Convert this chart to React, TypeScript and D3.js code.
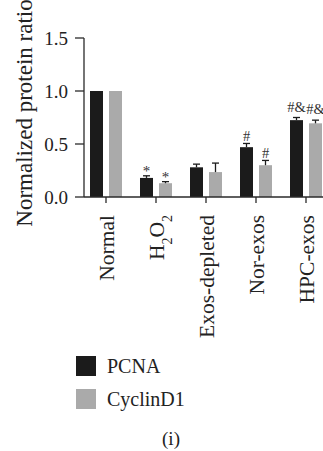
import React from 'react';
import * as d3 from 'd3';

const categories = ['Normal', 'H2O2', 'Exos-depleted', 'Nor-exos', 'HPC-exos'];
const series = ['PCNA', 'CyclinD1'];
const pcnaValues = [1.0, 0.18, 0.28, 0.47, 0.725];
const pcnaErrors = [0, 0.02, 0.03, 0.035, 0.025];
const cyclinValues = [1.0, 0.13, 0.235, 0.3, 0.695];
const cyclinErrors = [0, 0.015, 0.085, 0.045, 0.03];
const pcnaMarks = ['', '*', '', '#', '#&'];
const cyclinMarks = ['', '*', '', '#', '#&'];
const yTicks = [0, 0.5, 1.0, 1.5];

const colors = { PCNA: '#1b1b1b', CyclinD1: '#aaaaaa' };
const FONT = '"Liberation Serif", "Times New Roman", serif';

const App = () => {
  const width = 323;
  const height = 451;

  const x = d3.scaleBand().domain(categories).range([81, 331]).padding(0);
  const xs = d3.scaleBand().domain(series).range([9, 41]).paddingInner(6 / 19).paddingOuter(0);
  const y = d3.scaleLinear().domain([0, 1.5]).range([197, 38]);

  const data = series.map((s) => ({
    key: s,
    values: s === 'PCNA' ? pcnaValues : cyclinValues,
    errors: s === 'PCNA' ? pcnaErrors : cyclinErrors,
    marks: s === 'PCNA' ? pcnaMarks : cyclinMarks,
  }));

  const bw = xs.bandwidth();
  const axisColor = '#2a2a2a';

  // offset of the significance mark from the error cap
  const markOffset = (m: string) => (m === '*' ? 0 : m === '#' ? -2 : -6);

  const renderLabel = (c: string) => {
    if (c === 'H2O2') {
      return (
        <>
          H<tspan baselineShift="sub" fontSize="14">2</tspan>O<tspan baselineShift="sub" fontSize="14">2</tspan>
        </>
      );
    }
    return c;
  };

  return (
    <svg width={width} height={height} style={{ position: 'absolute', left: 0, top: 0, background: '#fff' }} fontFamily={FONT}>
      {/* y axis */}
      <line x1={84} x2={84} y1={y(1.5)} y2={y(0)} stroke={axisColor} strokeWidth={1.3} />
      {yTicks.map((t) => (
        <g key={t}>
          <line x1={75} x2={84} y1={y(t)} y2={y(t)} stroke={axisColor} strokeWidth={1.3} />
          <text x={68} y={y(t)} dy="0.35em" textAnchor="end" fontSize={19} fill="#222">
            {t.toFixed(1)}
          </text>
        </g>
      ))}
      <text transform={`translate(32,${113}) rotate(-90)`} textAnchor="middle" fontSize={23} fill="#222">
        Normalized protein ratio
      </text>

      {/* bars */}
      {data.map((s) =>
        categories.map((c, i) => {
          const bx = (x(c) as number) + (xs(s.key) as number);
          const v = s.values[i];
          const e = s.errors[i];
          const cx = bx + bw / 2;
          const m = s.marks[i];
          return (
            <g key={s.key + c}>
              <rect x={bx} y={y(v)} width={bw} height={y(0) - y(v)} fill={colors[s.key as 'PCNA' | 'CyclinD1']} />
              {e > 0 && (
                <>
                  <line x1={cx} x2={cx} y1={y(v)} y2={y(v + e)} stroke="#1b1b1b" strokeWidth={1.3} />
                  <line x1={cx - 3.5} x2={cx + 3.5} y1={y(v + e)} y2={y(v + e)} stroke="#1b1b1b" strokeWidth={1.3} />
                </>
              )}
              {m && (
                <text x={cx} y={y(v + e) + markOffset(m)} textAnchor="middle" fontSize={m === '*' ? 15 : 14.5} fill="#333">
                  {m}
                </text>
              )}
            </g>
          );
        })
      )}

      {/* x axis */}
      <line x1={84} x2={323} y1={y(0)} y2={y(0)} stroke={axisColor} strokeWidth={1.3} />
      {categories.map((c) => {
        const cx = (x(c) as number) + x.bandwidth() / 2;
        return (
          <g key={c}>
            <line x1={cx} x2={cx} y1={y(0)} y2={y(0) + 6} stroke={axisColor} strokeWidth={1.3} />
            <text transform={`translate(${cx},${215}) rotate(-90)`} textAnchor="end" dy="0.35em" fontSize={21.5} fill="#222">
              {renderLabel(c)}
            </text>
          </g>
        );
      })}

      {/* legend */}
      {series.map((s, i) => (
        <g key={s} transform={`translate(76,${356 + i * 33})`}>
          <rect width={20} height={20} fill={colors[s as 'PCNA' | 'CyclinD1']} />
          <text x={31} y={10} dy="0.35em" fontSize={20} fill="#222">
            {s}
          </text>
        </g>
      ))}

      <text x={171} y={438} dy="0.35em" textAnchor="middle" fontSize={19} fill="#222">
        (i)
      </text>
    </svg>
  );
};

export default App;
